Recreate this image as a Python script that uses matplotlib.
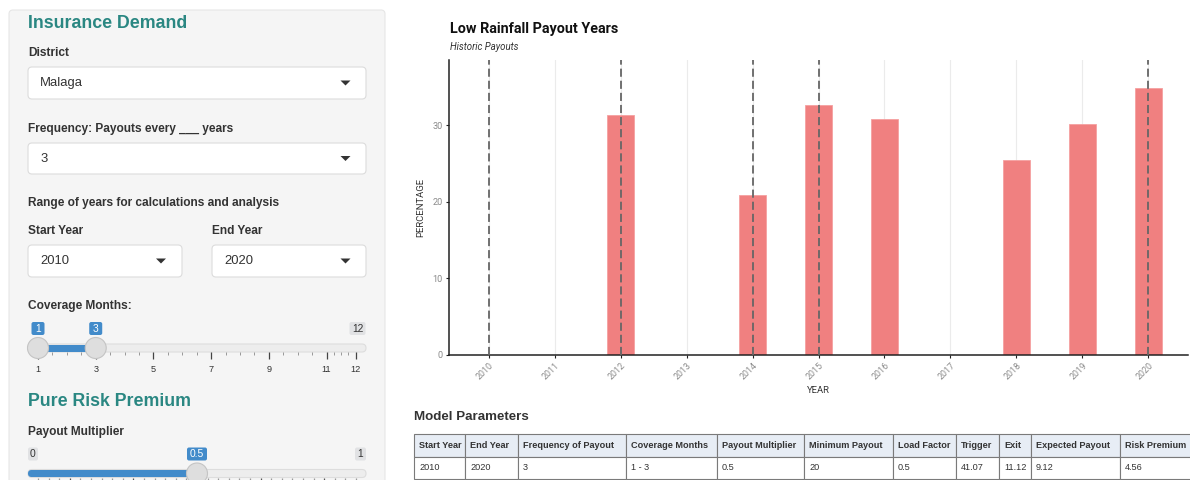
import matplotlib
matplotlib.use("Agg")
import matplotlib.pyplot as plt
from matplotlib.patches import FancyBboxPatch, Rectangle, Circle, Polygon
import numpy as np

# ---------------- data ----------------
years = [2010, 2011, 2012, 2013, 2014, 2015, 2016, 2017, 2018, 2019, 2020]
payout_years = [2012, 2014, 2015, 2016, 2018, 2019, 2020]
payout_pct = [31.3, 20.9, 32.6, 30.8, 25.5, 30.1, 34.8]
marked_years = [2010, 2012, 2014, 2015, 2020]
y_ticks = [0, 10, 20, 30]

chart_title = "Low Rainfall Payout Years"
chart_subtitle = "Historic Payouts"
x_label = "YEAR"
y_label = "PERCENTAGE"

district = "Malaga"
frequency = "3"
start_year = "2010"
end_year = "2020"
coverage_limits = [1, 12]
coverage_range = [1, 3]
coverage_tick_labels = [1, 3, 5, 7, 9, 11, 12]
multiplier_limits = [0, 1]
multiplier_value = 0.5

table_headers = ["Start Year", "End Year", "Frequency of Payout", "Coverage Months",
                 "Payout Multiplier", "Minimum Payout", "Load Factor", "Trigger",
                 "Exit", "Expected Payout", "Risk Premium"]
table_values = ["2010", "2020", "3", "1 - 3", "0.5", "20", "0.5", "41.07",
                "11.12", "9.12", "4.56"]

# ---------------- style ----------------
UI = ["Liberation Sans", "DejaVu Sans"]
CH = ["Roboto", "DejaVu Sans"]
TEAL = "#2a8782"
BLUE = "#428bca"
DARK = "#333333"

W, H = 1190, 480
fig = plt.figure(figsize=(W / 100, H / 100), dpi=100)
fig.patch.set_facecolor("white")

bg = fig.add_axes([0, 0, 1, 1])
bg.set_xlim(0, W)
bg.set_ylim(H, 0)
bg.axis("off")
bg.set_zorder(0)

# sidebar panel
bg.add_patch(FancyBboxPatch((9, 10), 376, 480, boxstyle="round,pad=0,rounding_size=4",
                            fc="#f5f5f5", ec="#e6e6e6", lw=0.8))


def label(x, y, s, size=8.6, weight="bold", color=DARK, ha="left"):
    bg.text(x, y, s, fontsize=size, fontweight=weight, color=color, family=UI,
            va="center", ha=ha)


def dropdown(x0, x1, y0, y1, text, arrow_x):
    bg.add_patch(FancyBboxPatch((x0, y0), x1 - x0, y1 - y0,
                                boxstyle="round,pad=0,rounding_size=4",
                                fc="white", ec="#dcdcdc", lw=0.8))
    yc = (y0 + y1) / 2
    bg.text(x0 + 12, yc, text, fontsize=9.4, color=DARK, family=UI, va="center", ha="left")
    bg.add_patch(Polygon([(arrow_x - 5, yc - 2.5), (arrow_x + 5, yc - 2.5), (arrow_x, yc + 2.5)],
                         closed=True, fc="#333333", ec="none"))


def vbox(xc, yc, text, fc, tc, w=None):
    if w is None:
        w = 6 + 5.2 * len(text)
    bg.add_patch(FancyBboxPatch((xc - w / 2, yc - 6.5), w, 13,
                                boxstyle="round,pad=0,rounding_size=2",
                                fc=fc, ec="none"))
    bg.text(xc, yc, text, fontsize=7.4, color=tc, family=UI, va="center", ha="center")


label(28, 23, "Insurance Demand", size=12.8, color=TEAL)
label(28, 52.5, "District")
dropdown(28, 366, 67, 99, district, 345.5)
label(28, 129, "Frequency: Payouts every ___ years")
dropdown(28, 366, 143, 174, frequency, 345.5)
label(28, 203, "Range of years for calculations and analysis")
label(28, 230.5, "Start Year")
label(212, 230.5, "End Year")
dropdown(28, 182, 245, 277, start_year, 161)
dropdown(212, 366, 245, 277, end_year, 345.5)
label(28, 306.5, "Coverage Months:")

# coverage slider
cx0, cx1 = 38, 355.5


def cpos(v):
    return cx0 + (v - coverage_limits[0]) / (coverage_limits[1] - coverage_limits[0]) * (cx1 - cx0)


ty = 348
bg.add_patch(FancyBboxPatch((28, ty - 4), 338, 8, boxstyle="round,pad=0,rounding_size=4",
                            fc="#ededed", ec="#dddddd", lw=0.8))
bg.add_patch(Rectangle((cpos(coverage_range[0]), ty - 3.5), cpos(coverage_range[1]) - cpos(coverage_range[0]), 7,
                       fc=BLUE, ec="none"))
grid_vals = list(np.arange(coverage_limits[0], 11, 0.5)) + [11, 11.25, 11.5, 11.75, 12]
for v in grid_vals:
    major = v in coverage_tick_labels
    bg.plot([cpos(v), cpos(v)], [352, 359 if major else 355], color="#444444" if major else "#999999",
            lw=0.9 if major else 0.7, solid_capstyle="butt")
for v in coverage_tick_labels:
    bg.text(cpos(v), 369, str(v), fontsize=6.6, color=DARK, family=UI, ha="center", va="center")
for v in coverage_range:
    bg.add_patch(Circle((cpos(v), ty), 10.5, fc="#dedede", ec="#c4c4c4", lw=0.8, zorder=5))
vbox(cpos(coverage_range[0]), 328.5, str(coverage_range[0]), BLUE, "white", w=13)
vbox(cpos(coverage_range[1]), 328.5, str(coverage_range[1]), BLUE, "white", w=13)
vbox(357.5, 328.5, str(coverage_limits[1]), "#e1e2e4", DARK, w=16)

label(28, 401, "Pure Risk Premium", size=12.8, color=TEAL)
label(28, 432, "Payout Multiplier")

# multiplier slider
mx0, mx1 = 38, 356


def mpos(v):
    return mx0 + (v - multiplier_limits[0]) / (multiplier_limits[1] - multiplier_limits[0]) * (mx1 - mx0)


ty2 = 473.5
bg.add_patch(FancyBboxPatch((28, ty2 - 4), 338, 8, boxstyle="round,pad=0,rounding_size=4",
                            fc="#ededed", ec="#dddddd", lw=0.8))
bg.add_patch(FancyBboxPatch((28, ty2 - 3.5), mpos(multiplier_value) - 28, 7,
                            boxstyle="round,pad=0,rounding_size=3.5", fc=BLUE, ec="none"))
for i, v in enumerate(np.linspace(0, 1, 31)):
    bg.plot([mpos(v), mpos(v)], [477.5, 481], color="#555555" if i % 6 == 3 else "#999999",
            lw=0.9, solid_capstyle="butt")
bg.add_patch(Circle((mpos(multiplier_value), ty2), 10.5, fc="#dedede", ec="#c4c4c4", lw=0.8, zorder=5))
vbox(33, 454, str(multiplier_limits[0]), "#e1e2e4", DARK, w=10)
vbox(mpos(multiplier_value), 454, str(multiplier_value), BLUE, "white", w=20)
vbox(360.5, 454, str(multiplier_limits[1]), "#e1e2e4", DARK, w=11)

# ---------------- chart ----------------
ax_l, ax_r, ax_t, ax_b = 449, 1188, 60, 355
ax = fig.add_axes([ax_l / W, 1 - ax_b / H, (ax_r - ax_l) / W, (ax_b - ax_t) / H])
ax.set_zorder(2)
ax.set_facecolor("none")
ax.set_xlim(2009.4, 2020.6)
ax.set_ylim(0, 38.5)
for y in years:
    ax.axvline(y, color="#ebebeb", lw=0.8, zorder=0)
ax.bar(payout_years, payout_pct, width=0.4, color="#f08080", edgecolor="#f5a0a0", lw=0.6, zorder=2)
for y in marked_years:
    ax.axvline(y, color="#666666", lw=1.3, dashes=(4.5, 2.2), zorder=3)
for s in ["top", "right"]:
    ax.spines[s].set_visible(False)
for s in ["left", "bottom"]:
    ax.spines[s].set_linewidth(1.1)
    ax.spines[s].set_color("#222222")
ax.set_xticks(years)
ax.set_xticklabels([str(y) for y in years], rotation=45, ha="right", va="top",
                   rotation_mode="anchor", fontsize=6.4, color="#8a8a8a", family=CH)
ax.set_yticks(y_ticks)
ax.set_yticklabels([str(v) for v in y_ticks], fontsize=6.6, color="#8a8a8a", family=CH)
ax.tick_params(axis="both", length=2.5, width=0.8, color="#222222", pad=2)
ax.set_xlabel(x_label, fontsize=6.8, color=DARK, family=CH, labelpad=3)
ax.set_ylabel(y_label, fontsize=6.8, color=DARK, family=CH, labelpad=5)

bg.text(450, 29, chart_title, fontsize=10.4, fontweight="bold", color="#111111", family=CH,
        va="center", ha="left")
bg.text(450, 47.5, chart_subtitle, fontsize=6.9, style="italic", color=DARK, family=CH,
        va="center", ha="left")

# ---------------- table ----------------
label(414, 417, "Model Parameters", size=9.6)
col_edges = [414, 465, 518, 626, 717, 804, 893, 956, 999, 1031, 1120, 1196]
t_top, t_mid, t_bot = 434, 457, 479
for i in range(len(table_headers)):
    x0, x1 = col_edges[i], col_edges[i + 1]
    bg.add_patch(Rectangle((x0, t_top), x1 - x0, t_mid - t_top, fc="#e7edf5", ec="#7a7a7a", lw=0.8))
    bg.add_patch(Rectangle((x0, t_mid), x1 - x0, t_bot - t_mid, fc="white", ec="#7a7a7a", lw=0.8))
    bg.text(x0 + 5, (t_top + t_mid) / 2, table_headers[i], fontsize=6.6, fontweight="bold",
            color=DARK, family=UI, va="center", ha="left")
    bg.text(x0 + 5, (t_mid + t_bot) / 2, table_values[i], fontsize=6.6,
            color=DARK, family=UI, va="center", ha="left")

fig.savefig("out.png", dpi=100)
